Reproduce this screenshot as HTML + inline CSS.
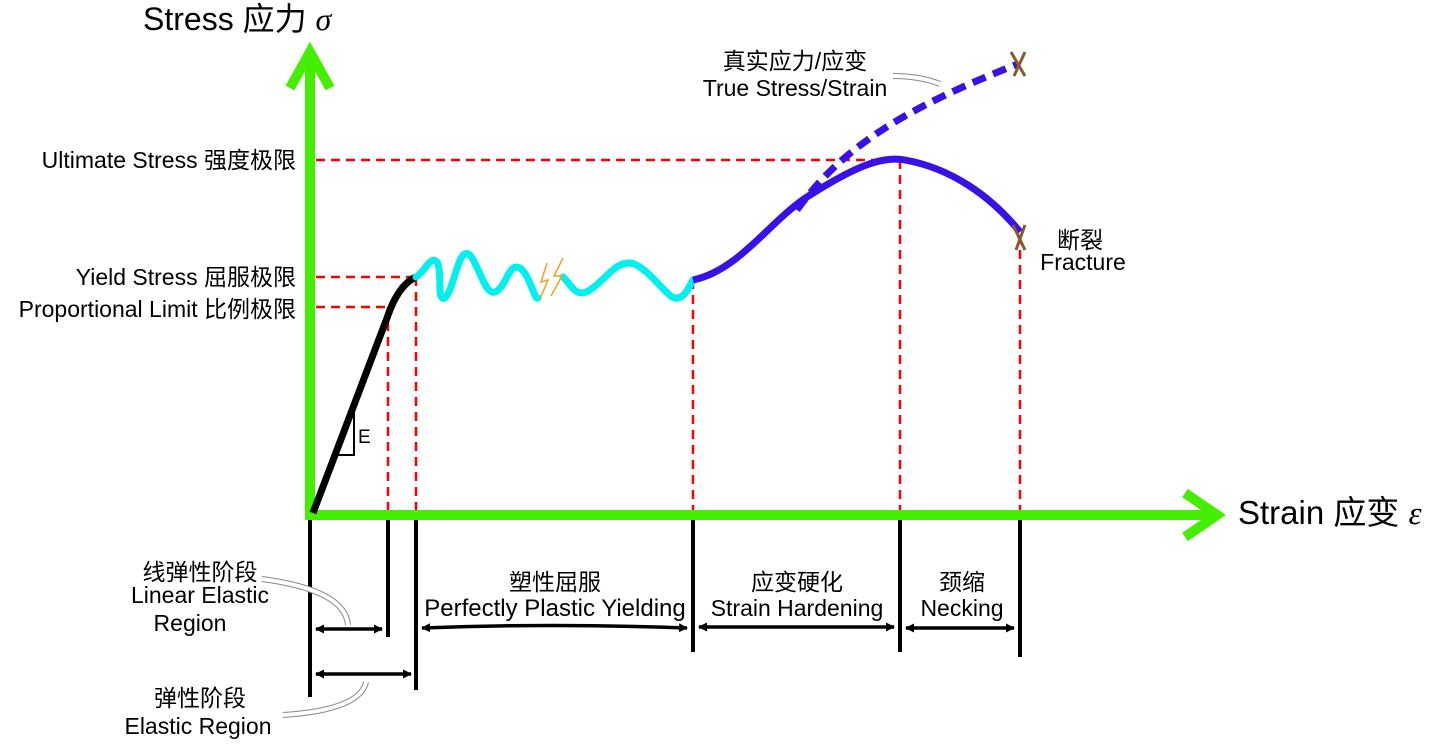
<!DOCTYPE html>
<html><head><meta charset="utf-8"><style>
body{margin:0;background:#fff}
svg text{font-family:"Liberation Sans","Noto Sans CJK SC",sans-serif;fill:#000}
</style></head><body>
<svg width="1440" height="741" viewBox="0 0 1440 741" xmlns="http://www.w3.org/2000/svg">
<defs>
<marker id="ah" markerWidth="9" markerHeight="9" refX="8" refY="4.5" orient="auto-start-reverse" markerUnits="userSpaceOnUse"><path d="M0,0 L9,4.5 L0,9 z" fill="#000"/></marker>
</defs>
<g stroke="#f00" stroke-width="2.5" stroke-dasharray="9,6" fill="none">
<path d="M316 160H900M316 277H416M316 307H388"/>
<path d="M388 307V515M416 277V515M693 280V515M900 160V515M1020 235V515"/>
</g>
<g stroke="#44ee00" stroke-width="10" fill="none" stroke-linecap="square">
<path d="M310 515V60"/><path d="M310 515H1210"/>
<path d="M290 88L310 52L330 88" stroke-linecap="butt"/>
<path d="M1185 493L1217 515L1185 537" stroke-linecap="butt"/>
</g>
<path d="M313 513L387 318Q398 285 416 277" stroke="#000" stroke-width="7" fill="none"/>
<path d="M354 405V455H334" stroke="#000" stroke-width="2" fill="none"/>
<text x="358" y="443" font-size="19">E</text>
<path d="M416 277C425 272 430 255 437 262C443 272 436 302 445 298C455 288 458 245 470 255C480 268 485 295 495 292C507 287 508 262 520 268C530 275 535 302 538 298M563 277C570 282 575 300 590 290C605 280 615 262 630 263C645 265 660 288 672 297C682 302 688 290 693 280" stroke="#00f0f0" stroke-width="7" fill="none" stroke-linecap="round"/>
<path d="M547 263L541 282L548 280L540 299M563 258L554 276L562 276L551 296" stroke="#f5a020" stroke-width="1.5" fill="none"/>
<path d="M693 280C740 270 770 220 810 195C850 170 880 155 905 160C950 168 990 195 1020 232" stroke="#3a10e8" stroke-width="7" fill="none"/>
<path d="M797 210C840 150 900 110 1018 64" stroke="#3a10e8" stroke-width="7" stroke-dasharray="14,8" fill="none"/>
<g stroke="#8b5a2b" stroke-width="3"><path d="M1011 52L1025 76M1025 52L1014 76"/><path d="M1013 225L1025 250M1025 225L1016 250"/></g>
<g stroke="#000" stroke-width="4"><path d="M310 520V697M388 520V637M416 520V690M693 520V652M900 520V652M1020 520V657"/></g>
<g stroke="#000" stroke-width="3.5" marker-start="url(#ah)" marker-end="url(#ah)" fill="none">
<path d="M316 629H382"/><path d="M422 628Q550 623 687 628"/><path d="M699 627H894"/><path d="M906 628H1014"/><path d="M316 674H411"/>
</g>
<g stroke="#888" stroke-width="6" fill="none"><path d="M262 579Q345 590 348 625"/><path d="M283 715Q360 710 366 682"/><path d="M893 76Q920 76 940 84"/></g>
<g stroke="#fff" stroke-width="4" fill="none"><path d="M262 579Q345 590 348 625"/><path d="M283 715Q360 710 366 682"/><path d="M893 76Q920 76 940 84"/></g>
<text x="143" y="30" font-size="32">Stress 应力 <tspan font-style="italic" font-family="Liberation Serif">σ</tspan></text>
<text x="1238" y="524" font-size="33">Strain 应变 <tspan font-style="italic" font-family="Liberation Serif">ε</tspan></text>
<g font-size="23" text-anchor="end">
<text x="296" y="168">Ultimate Stress 强度极限</text>
<text x="296" y="285">Yield Stress 屈服极限</text>
<text x="296" y="317">Proportional Limit 比例极限</text>
</g>
<g font-size="23" text-anchor="middle">
<text x="795" y="69">真实应力/应变</text><text x="795" y="96">True Stress/Strain</text>
<text x="200" y="580">线弹性阶段</text><text x="200" y="603">Linear Elastic</text><text x="190" y="631">Region</text>
<text x="200" y="706">弹性阶段</text><text x="198" y="734">Elastic Region</text>
<text x="555" y="590">塑性屈服</text><text x="555" y="616" font-size="24">Perfectly Plastic Yielding</text>
<text x="797" y="590">应变硬化</text><text x="797" y="616">Strain Hardening</text>
<text x="962" y="590">颈缩</text><text x="962" y="616">Necking</text>
<text x="1080" y="248">断裂</text><text x="1083" y="270">Fracture</text>
</g>
</svg>
</body></html>
